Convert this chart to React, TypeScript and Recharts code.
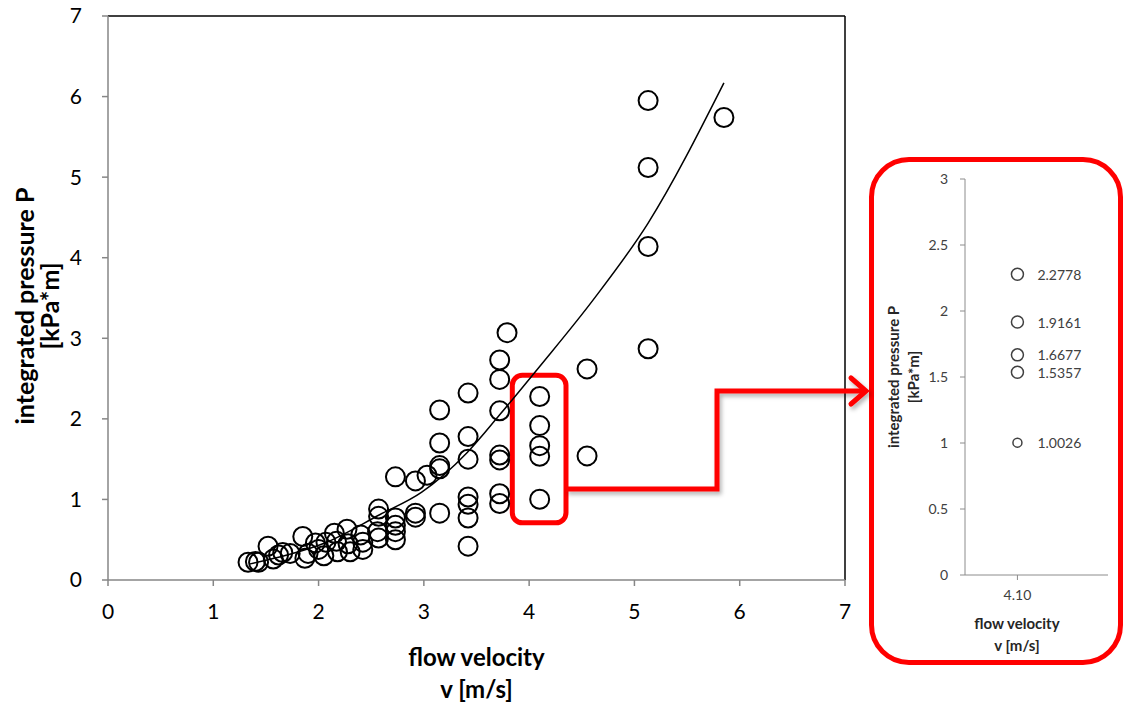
import React from 'react';
import {
  ComposedChart,
  ScatterChart,
  Scatter,
  Line,
  XAxis,
  YAxis,
  ReferenceLine,
  ReferenceArea,
} from 'recharts';

// ---- main chart data (flow velocity v [m/s], integrated pressure P [kPa*m]) ----
const velocity = [
  1.33, 1.40, 1.43, 1.52, 1.57, 1.62, 1.66, 1.73, 1.85, 1.87, 1.90, 1.97, 2.00, 2.05, 2.07,
  2.15, 2.17, 2.18, 2.27, 2.28, 2.30, 2.40, 2.42, 2.42, 2.57, 2.57, 2.56, 2.57, 2.73, 2.73,
  2.73, 2.73, 2.73, 2.92, 2.92, 2.92, 3.03, 3.15, 3.15, 3.15, 3.15, 3.15, 3.42, 3.42, 3.42,
  3.42, 3.42, 3.42, 3.42, 3.72, 3.72, 3.72, 3.72, 3.72, 3.72, 3.72, 3.79, 4.10, 4.10, 4.10,
  4.10, 4.10, 4.55, 4.55, 5.13, 5.13, 5.13, 5.13, 5.85,
];
const pressure = [
  0.22, 0.23, 0.22, 0.42, 0.26, 0.31, 0.34, 0.33, 0.54, 0.27, 0.33, 0.46, 0.38, 0.30, 0.47,
  0.58, 0.48, 0.35, 0.63, 0.45, 0.35, 0.56, 0.47, 0.38, 0.88, 0.79, 0.60, 0.52, 1.28, 0.77,
  0.68, 0.60, 0.50, 1.23, 0.83, 0.78, 1.30, 2.11, 1.70, 1.42, 1.38, 0.83, 2.32, 1.78, 1.50,
  1.03, 0.94, 0.77, 0.42, 2.73, 2.49, 2.10, 1.55, 1.49, 1.07, 0.95, 3.07, 2.2778, 1.9161, 1.6677,
  1.5357, 1.0026, 2.62, 1.54, 5.95, 5.12, 4.14, 2.87, 5.74,
];

// trend line
const trendVelocity = [1.35, 1.7, 2.06, 2.58, 2.98, 3.41, 3.72, 4.10, 4.61, 5.13, 5.85];
const trendPressure = [0.20, 0.31, 0.46, 0.81, 1.09, 1.58, 2.05, 2.65, 3.48, 4.43, 6.17];

const mainTicks = [0, 1, 2, 3, 4, 5, 6, 7];

// highlighted group (v = 4.10)
const highlightV = [3.84, 4.35];
const highlightP = [0.71, 2.54];

// ---- inset data ----
const insetVelocity = [4.10, 4.10, 4.10, 4.10, 4.10];
const insetPressure = [2.2778, 1.9161, 1.6677, 1.5357, 1.0026];
const insetYTicks = [0, 0.5, 1, 1.5, 2, 2.5, 3];
const insetXTicks = [4.10];

const mainData = velocity.map((v, i) => ({ v, p: pressure[i] }));
const trendData = trendVelocity.map((v, i) => ({ v, p: trendPressure[i] }));
const insetData = insetVelocity.map((v, i) => ({ v, p: insetPressure[i] }));

const FONT = 'Lato, "Open Sans", sans-serif';
const RED = '#ff0000';

const MainDot = (props: any) => {
  const { cx, cy } = props;
  if (cx == null || cy == null) return null;
  return <circle cx={cx} cy={cy} r={9.5} fill="none" stroke="#000" strokeWidth={2} />;
};

const InsetDot = (props: any) => {
  const { cx, cy, payload } = props;
  if (cx == null || cy == null) return null;
  const r = payload.p < 1.2 ? 4.5 : 6;
  return (
    <g>
      <circle cx={cx} cy={cy} r={r} fill="none" stroke="#404040" strokeWidth={1.5} />
      <text
        x={cx + 20}
        y={cy}
        dominantBaseline="central"
        fontFamily={FONT}
        fontSize={14}
        fill="#404040"
      >
        {payload.p.toFixed(4)}
      </text>
    </g>
  );
};

const HighlightShape = (props: any) => {
  const { x, y, width, height } = props;
  return (
    <rect
      x={x}
      y={y}
      width={width}
      height={height}
      rx={10}
      ry={10}
      fill="none"
      stroke={RED}
      strokeWidth={5}
    />
  );
};

const MainXTitle = (props: any) => {
  const vb = props.viewBox || { x: 108, y: 580, width: 737, height: 122 };
  const cx = vb.x + vb.width / 2;
  return (
    <g fontFamily={FONT} fontWeight="bold" fontSize={24} fill="#000" textAnchor="middle">
      <text x={cx} y={vb.y + 76} dominantBaseline="central">flow velocity</text>
      <text x={cx} y={vb.y + 108} dominantBaseline="central">v [m/s]</text>
    </g>
  );
};

const MainYTitle = (props: any) => {
  const vb = props.viewBox || { x: 0, y: 16, width: 108, height: 564 };
  const cy = vb.y + vb.height / 2 + 8;
  return (
    <g fontFamily={FONT} fontWeight="bold" fontSize={25} fill="#000" textAnchor="middle">
      <text transform={`translate(24, ${cy}) rotate(-90)`} dominantBaseline="central">
        integrated pressure P
      </text>
      <text transform={`translate(49, ${cy}) rotate(-90)`} dominantBaseline="central">
        [kPa*m]
      </text>
    </g>
  );
};

const InsetXTitle = (props: any) => {
  const vb = props.viewBox || { x: 95, y: 425, width: 143, height: 95 };
  const cx = vb.x + 52;
  return (
    <g fontFamily={FONT} fontWeight="bold" fontSize={15} fill="#262626" textAnchor="middle">
      <text x={cx} y={vb.y + 48} dominantBaseline="central">flow velocity</text>
      <text x={cx} y={vb.y + 70} dominantBaseline="central">v [m/s]</text>
    </g>
  );
};

const InsetYTitle = (props: any) => {
  const vb = props.viewBox || { x: 0, y: 29, width: 95, height: 396 };
  const cy = vb.y + vb.height / 2;
  return (
    <g fontFamily={FONT} fontWeight="bold" fontSize={15} fill="#262626" textAnchor="middle">
      <text transform={`translate(23, ${cy}) rotate(-90)`} dominantBaseline="central">
        integrated pressure P
      </text>
      <text transform={`translate(43, ${cy}) rotate(-90)`} dominantBaseline="central">
        [kPa*m]
      </text>
    </g>
  );
};

export default function App() {
  return (
    <div
      style={{
        position: 'absolute',
        left: 0,
        top: 0,
        width: 1126,
        height: 702,
        background: '#fff',
        overflow: 'hidden',
      }}
    >
      {/* main chart */}
      <div style={{ position: 'absolute', left: 0, top: 0 }}>
        <ComposedChart
          width={870}
          height={702}
          margin={{ top: 16, right: 25, bottom: 0, left: 0 }}
        >
          <XAxis
            type="number"
            dataKey="v"
            domain={[0, 7]}
            ticks={mainTicks}
            interval={0}
            allowDataOverflow
            height={122}
            tickSize={6}
            tickMargin={18}
            axisLine={{ stroke: '#868686', strokeWidth: 1.5 }}
            tickLine={{ stroke: '#868686', strokeWidth: 1.5 }}
            tick={{ fill: '#000', fontSize: 21, fontFamily: FONT }}
            label={{ content: MainXTitle }}
          />
          <YAxis
            type="number"
            dataKey="p"
            domain={[0, 7]}
            ticks={mainTicks}
            interval={0}
            allowDataOverflow
            width={108}
            tickSize={6}
            tickMargin={20}
            axisLine={{ stroke: '#868686', strokeWidth: 1.5 }}
            tickLine={{ stroke: '#868686', strokeWidth: 1.5 }}
            tick={{ fill: '#000', fontSize: 21, fontFamily: FONT }}
            label={{ content: MainYTitle }}
          />
          <ReferenceLine y={7} stroke="#000" strokeWidth={1.5} />
          <ReferenceLine x={7} stroke="#000" strokeWidth={1.5} />
          <Line
            data={trendData}
            dataKey="p"
            type="monotone"
            stroke="#000"
            strokeWidth={1.5}
            dot={false}
            activeDot={false}
            isAnimationActive={false}
          />
          <Scatter
            data={mainData}
            dataKey="p"
            shape={MainDot}
            isAnimationActive={false}
          />
          <ReferenceArea
            x1={highlightV[0]}
            x2={highlightV[1]}
            y1={highlightP[0]}
            y2={highlightP[1]}
            shape={HighlightShape}
          />
        </ComposedChart>
      </div>

      {/* inset frame */}
      <div
        style={{
          position: 'absolute',
          left: 869,
          top: 157,
          width: 254,
          height: 508,
          border: `5px solid ${RED}`,
          borderRadius: 40,
          boxSizing: 'border-box',
        }}
      />

      {/* inset chart */}
      <div style={{ position: 'absolute', left: 870, top: 150 }}>
        <ScatterChart
          width={256}
          height={520}
          margin={{ top: 29, right: 18, bottom: 0, left: 0 }}
        >
          <XAxis
            type="number"
            dataKey="v"
            domain={[3, 6]}
            ticks={insetXTicks}
            interval={0}
            allowDataOverflow
            height={95}
            tickSize={5}
            tickMargin={10}
            tickFormatter={(v: number) => v.toFixed(2)}
            axisLine={{ stroke: '#8c8c8c', strokeWidth: 1 }}
            tickLine={{ stroke: '#8c8c8c', strokeWidth: 1 }}
            tick={{ fill: '#404040', fontSize: 14, fontFamily: FONT }}
            label={{ content: InsetXTitle }}
          />
          <YAxis
            type="number"
            dataKey="p"
            domain={[0, 3]}
            ticks={insetYTicks}
            interval={0}
            allowDataOverflow
            width={95}
            tickSize={5}
            tickMargin={12}
            axisLine={{ stroke: '#8c8c8c', strokeWidth: 1 }}
            tickLine={{ stroke: '#8c8c8c', strokeWidth: 1 }}
            tick={{ fill: '#404040', fontSize: 14, fontFamily: FONT }}
            label={{ content: InsetYTitle }}
          />
          <Scatter data={insetData} shape={InsetDot} isAnimationActive={false} />
        </ScatterChart>
      </div>

      {/* connector arrow */}
      <svg
        width={1126}
        height={702}
        style={{ position: 'absolute', left: 0, top: 0, pointerEvents: 'none' }}
      >
        <defs>
          <filter id="shadow" x="-10%" y="-10%" width="130%" height="130%">
            <feDropShadow dx="2" dy="3" stdDeviation="2" floodColor="#000" floodOpacity="0.3" />
          </filter>
        </defs>
        <g filter="url(#shadow)" fill="none" stroke={RED} strokeWidth={5}>
          <path d="M 566 489 H 717 V 391 H 864" strokeLinejoin="miter" />
          <path d="M 851 378 L 866 391 L 851 404" strokeLinejoin="miter" strokeLinecap="round" />
        </g>
      </svg>
    </div>
  );
}
